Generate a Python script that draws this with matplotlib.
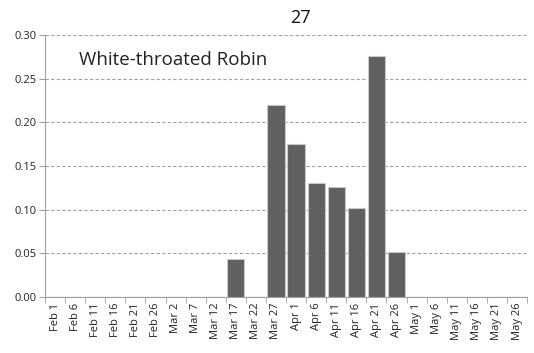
import matplotlib.pyplot as plt
import numpy as np

dates = ["Feb 1", "Feb 6", "Feb 11", "Feb 16", "Feb 21", "Feb 26", "Mar 2", "Mar 7",
         "Mar 12", "Mar 17", "Mar 22", "Mar 27", "Apr 1", "Apr 6", "Apr 11", "Apr 16",
         "Apr 21", "Apr 26", "May 1", "May 6", "May 11", "May 16", "May 21", "May 26"]
freq = [0, 0, 0, 0, 0, 0, 0, 0, 0, 0.0435, 0, 0.22, 0.175, 0.131, 0.126, 0.102,
        0.276, 0.052, 0, 0, 0, 0, 0, 0]

plt.rcParams['font.family'] = ['Open Sans', 'DejaVu Sans']

fig = plt.figure(figsize=(5.34, 3.53), dpi=100)
ax = fig.add_axes([0.0843, 0.1586, 0.9027, 0.7422])

x = np.arange(len(dates))
ax.bar(x, freq, width=0.86, color="#606060", edgecolor="#c8c8c8", linewidth=0.8, zorder=3)

ax.set_xlim(-0.5, len(dates) - 0.5)
ax.set_ylim(0, 0.30)
ax.set_yticks(np.arange(0, 0.31, 0.05))
ax.set_yticklabels([f"{v:.2f}" for v in np.arange(0, 0.31, 0.05)], fontsize=8, color="#222222")
ax.yaxis.grid(True, linestyle=(0, (3, 2)), color="#a0a0a0", linewidth=0.8, zorder=0)
ax.tick_params(axis="y", length=4, color="#a0a0a0", pad=2)

ax.set_xticks(x)
ax.set_xticklabels(dates, rotation=90, fontsize=8, color="#222222")
ax.set_xticks(np.arange(-0.5, len(dates)), minor=True)
ax.tick_params(axis="x", which="major", length=0, pad=4)
ax.tick_params(axis="x", which="minor", length=4, color="#a0a0a0")

for s in ["top", "right"]:
    ax.spines[s].set_visible(False)
ax.spines["left"].set_color("#a0a0a0")
ax.spines["bottom"].set_color("#a0a0a0")

ax.text(0.07, 0.905, "White-throated Robin", transform=ax.transAxes, fontsize=13.5,
        color="#222222", va="center")
fig.text(0.562, 0.948, "27", fontsize=13, ha="center", va="center", color="#111111")

fig.savefig("out.png", dpi=100)
